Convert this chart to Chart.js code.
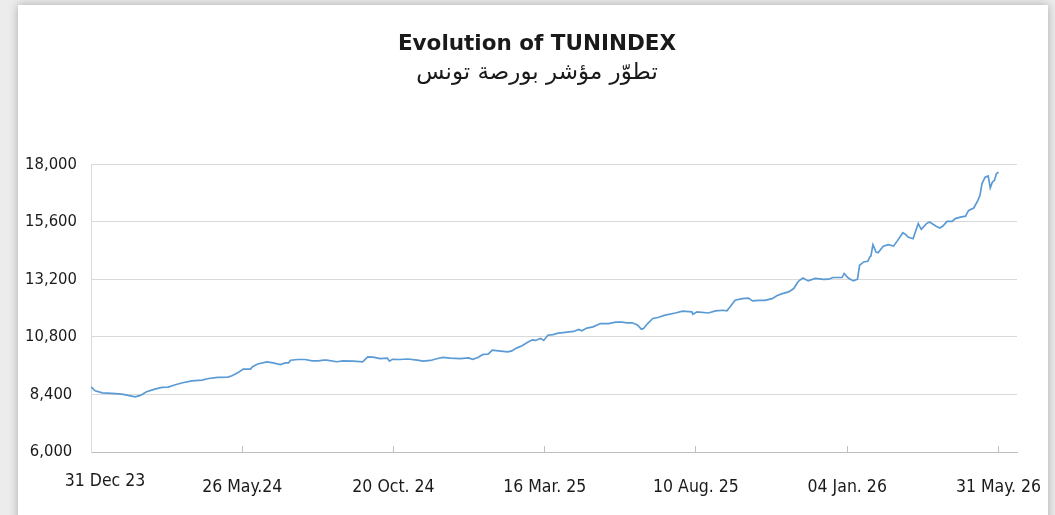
<!DOCTYPE html>
<html>
<head>
<meta charset="utf-8">
<script src="https://cdn.jsdelivr.net/npm/chart.js@4.4.1/dist/chart.umd.min.js"></script>
<style>
  html, body { margin: 0; padding: 0; width: 1055px; height: 515px; overflow: hidden; background: #ececec; }
  #card { position: absolute; left: 18px; top: 5px; width: 1030px; height: 560px; background: #ffffff;
          box-shadow: 0 0 9px rgba(0,0,0,0.28); }
  #wrap { position: absolute; left: 0; top: 0; width: 1055px; height: 515px; }
</style>
</head>
<body>
<div id="card"></div>
<div id="wrap"><canvas id="c" width="1055" height="515"></canvas></div>
<script>
// Days counted from 31 Dec 2023
const days = [0,4,11,20,30,36,43,48,54,62,69,75,82,89,98,108,113,123,133,137,143,148,155,157,162,171,177,184,189,192,194,201,208,215,221,226,229,239,245,255,264,269,274,281,288,290,293,300,308,317,323,330,336,342,349,359,367,371,376,381,386,390,396,405,409,414,419,424,429,432,437,440,444,449,454,461,469,474,477,482,488,495,503,510,516,521,526,531,535,537,541,546,551,558,568,575,584,585,589,600,607,614,618,621,626,633,639,643,649,655,662,667,672,678,683,687,689,692,697,704,712,717,721,730,732,736,741,745,747,751,755,757,758,760,763,765,770,775,780,784,789,792,794,799,804,807,812,815,821,825,828,832,837,840,845,850,853,858,862,864,866,869,872,874,876,878,880,882];
const tunindex = [8720,8555,8470,8445,8415,8360,8305,8360,8515,8625,8695,8710,8805,8890,8970,9000,9055,9110,9125,9180,9320,9460,9460,9555,9670,9760,9720,9650,9720,9720,9830,9860,9860,9800,9800,9830,9830,9765,9800,9790,9765,9970,9960,9900,9920,9790,9870,9860,9880,9830,9790,9820,9890,9945,9915,9900,9925,9870,9945,10070,10080,10250,10220,10180,10220,10345,10430,10570,10680,10655,10740,10655,10870,10900,10960,10990,11030,11115,11055,11170,11220,11360,11360,11415,11415,11390,11390,11300,11125,11150,11360,11570,11610,11710,11800,11875,11850,11750,11850,11800,11890,11915,11890,12050,12330,12400,12420,12305,12330,12330,12400,12530,12610,12680,12820,13095,13170,13260,13140,13240,13200,13210,13280,13280,13450,13260,13140,13210,13790,13930,13960,14140,14180,14650,14340,14310,14590,14650,14590,14830,15150,15070,14970,14900,15530,15290,15530,15600,15430,15350,15430,15625,15625,15740,15800,15840,16080,16180,16500,16710,17200,17470,17520,17020,17260,17330,17610,17680];
const tickDays = [0,147,294,441,588,735,882];
const tickLabels = ['31 Dec 23','26 May.24','20 Oct. 24','16 Mar. 25','10 Aug. 25','04 Jan. 26','31 May. 26'];
const yTicks = [6000,8400,10800,13200,15600,18000];
const titleText = 'Evolution of TUNINDEX';
const subtitleText = 'تطوّر مؤشر بورصة تونس';

const points = days.map((d, i) => ({ x: d, y: tunindex[i] }));

// Draws the x-axis tick labels at the x scale's tick positions
const xLabelPlugin = {
  id: 'xLabels',
  afterDraw(chart) {
    const sc = chart.scales.x;
    const ctx = chart.ctx;
    ctx.save();
    ctx.font = '17.5px "DejaVu Sans Condensed"';
    ctx.fillStyle = '#1a1a1a';
    ctx.textAlign = 'center';
    ctx.textBaseline = 'middle';
    tickDays.forEach((d, i) => {
      const x = sc.getPixelForValue(d) + (i === 0 ? 14 : 0);
      const y = sc.top + (i === 0 ? 29 : 35);
      ctx.fillText(tickLabels[i], x, y);
    });
    ctx.restore();
  }
};

new Chart(document.getElementById('c'), {
  type: 'line',
  data: {
    datasets: [{
      data: points,
      borderColor: '#5b9bd5',
      borderWidth: 1.7,
      pointRadius: 0,
      tension: 0,
      fill: false
    }]
  },
  plugins: [xLabelPlugin],
  options: {
    responsive: false,
    animation: false,
    layout: { padding: { left: 19, right: 0, top: 0, bottom: 0 } },
    plugins: {
      legend: { display: false },
      tooltip: { enabled: false },
      title: {
        display: true,
        text: titleText,
        color: '#1a1a1a',
        font: { family: "'DejaVu Sans'", size: 21.5, weight: 'bold', lineHeight: 1.2 },
        padding: { top: 32, bottom: 0 }
      },
      subtitle: {
        display: true,
        text: subtitleText,
        color: '#1a1a1a',
        font: { family: "'DejaVu Sans'", size: 23, weight: 'normal', lineHeight: 1.2 },
        padding: { top: 1, bottom: 78 }
      }
    },
    scales: {
      x: {
        type: 'linear',
        min: 0,
        max: 900,
        afterBuildTicks: (scale) => { scale.ticks = tickDays.map(v => ({ value: v })); },
        afterFit: (scale) => { scale.height = 63; scale.paddingLeft = 0; scale.paddingRight = 0; },
        grid: { display: true, drawOnChartArea: false, drawTicks: true, tickLength: -6, color: '#bfbfbf' },
        border: { display: true, color: '#bfbfbf', width: 1 },
        ticks: { display: false, autoSkip: false, maxRotation: 0 }
      },
      y: {
        type: 'linear',
        position: 'left',
        min: 6000,
        max: 18000,
        afterBuildTicks: (scale) => { scale.ticks = yTicks.map(v => ({ value: v })); },
        afterFit: (scale) => { scale.width = 72; },
        grid: { color: '#d9d9d9', drawTicks: false, lineWidth: 1 },
        border: { display: true, color: '#d9d9d9', width: 1 },
        ticks: {
          color: '#1a1a1a',
          padding: 14,
          crossAlign: 'center',
          font: { family: "'DejaVu Sans Condensed'", size: 16.5 },
          callback: (v) => v.toLocaleString('en-US')
        }
      },
      yRight: {
        type: 'linear',
        position: 'right',
        display: true,
        min: 6000,
        max: 18000,
        afterFit: (scale) => { scale.width = 38; },
        grid: { display: false, drawOnChartArea: false, drawTicks: false },
        border: { display: false },
        ticks: { display: false }
      }
    }
  }
});
</script>
</body>
</html>
